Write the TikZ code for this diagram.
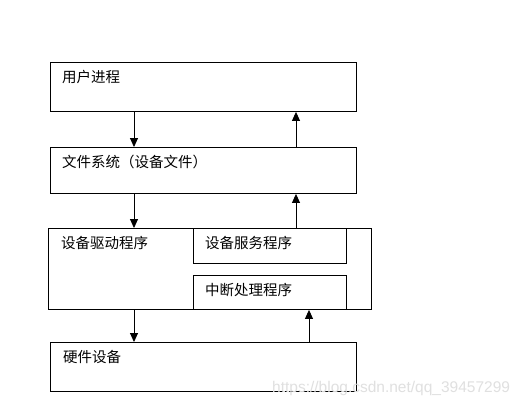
\documentclass[tikz,border=0pt]{standalone}
\usepackage{fontspec}
\newfontfamily\cjk{Noto Sans CJK SC}
\newfontfamily\wmfont{Liberation Sans}
\usetikzlibrary{arrows.meta}
\begin{document}
\begin{tikzpicture}[x=1pt,y=-1pt,
  box/.style={draw=black,line width=0.9pt,inner sep=0pt,anchor=north west},
  lbl/.style={anchor=west,inner sep=0pt,font=\cjk\fontsize{14.5}{16}\selectfont},
  arr/.style={line width=0.9pt,-{Triangle[width=8pt,length=9pt]}}]
\useasboundingbox (0,0) rectangle (523,408);
\fill[white] (0,0) rectangle (523,408);
% boxes
\node[box,minimum width=306pt,minimum height=49pt] (user) at (50,62) {};
\node[box,minimum width=306pt,minimum height=46pt] (fs) at (50,147) {};
\node[box,minimum width=323pt,minimum height=81pt] (drv) at (48,228) {};
\node[box,minimum width=153pt,minimum height=35pt] (svc) at (193,228) {};
\node[box,minimum width=153pt,minimum height=34pt] (irq) at (193,275) {};
\node[box,minimum width=306pt,minimum height=49pt] (hw) at (50,342) {};
% labels
\node[lbl] (tuser) at (62,77) {用户进程};
\node[lbl] (tfs) at (62,162) {文件系统（设备文件）};
\node[lbl] (tdrv) at (61,243) {设备驱动程序};
\node[lbl] (tsvc) at (205,243) {设备服务程序};
\node[lbl] (tirq) at (205,290) {中断处理程序};
\node[lbl] (thw) at (63,357) {硬件设备};
% connector columns
\coordinate (cd) at (134,0);
\coordinate (cu) at (296,0);
\coordinate (ci) at (309,0);
\draw[arr] (user.south -| cd) -- (fs.north -| cd);
\draw[arr] (fs.north -| cu) -- (user.south -| cu);
\draw[arr] (fs.south -| cd) -- (drv.north -| cd);
\draw[arr] (drv.north -| cu) -- (fs.south -| cu);
\draw[arr] (drv.south -| cd) -- (hw.north -| cd);
\draw[arr] (hw.north -| ci) -- (irq.south -| ci);
% watermark
\node[anchor=west,inner sep=0pt,text=black!12,font=\wmfont\fontsize{15.5}{17}\selectfont] (wm) at (272,388) {https://blog.csdn.net/qq\_39457299};
\end{tikzpicture}
\end{document}
